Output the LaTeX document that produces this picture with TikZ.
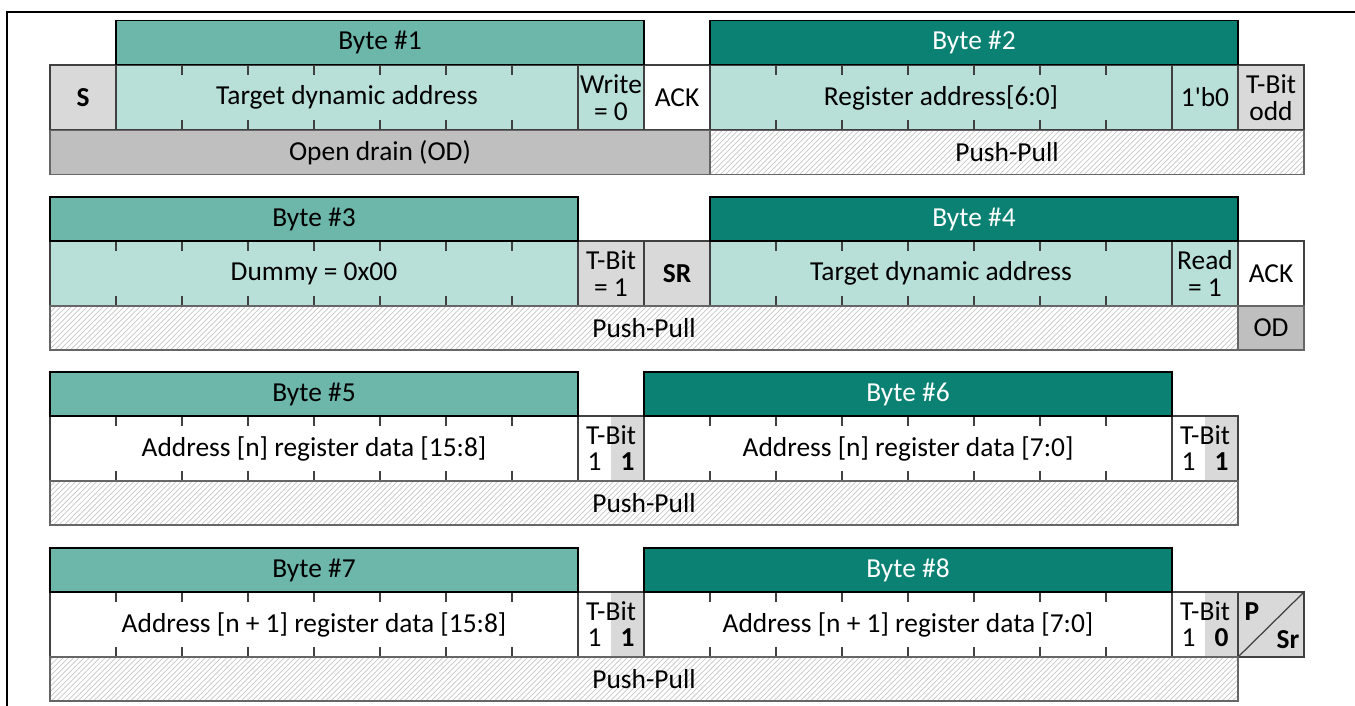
\documentclass[tikz,border=0pt]{standalone}
\usepackage{fontspec}
\setmainfont{Carlito}
\usepackage{tikz}
\usetikzlibrary{patterns}
\usepackage{xcolor}
\definecolor{bytelt}{HTML}{6CB6AA}
\definecolor{bytedk}{HTML}{0A8173}
\definecolor{field}{HTML}{B9DFD9}
\definecolor{ctrl}{HTML}{D9D9D9}
\definecolor{drain}{HTML}{BFBFBF}
\definecolor{edge}{HTML}{404040}

\begin{document}
\begin{tikzpicture}[x=1.32cm, y=1cm,
  every node/.style={font=\fontsize{15.6}{15.5}\selectfont, inner sep=0pt, outer sep=0pt},
  slots/.style={minimum width=#1*1.32cm},
  hdr/.style={draw=black, line width=1.1pt, fill=bytelt, minimum height=0.88cm},
  hdrdark/.style={hdr, fill=bytedk, text=white},
  cell/.style={draw=edge, line width=0.7pt, minimum height=1.3cm, align=center},
  half/.style={fill=ctrl, minimum width=0.66cm, minimum height=1.3cm},
  band/.style={draw=black!60, line width=0.7pt, minimum height=0.88cm},
  pp/.style={band, pattern=north east lines, pattern color=black!22},
  od/.style={band, fill=drain},
  tick/.style={draw=edge, line width=0.7pt}
]
  \path[use as bounding box, fill=white] (-0.75758,0) rectangle (19.7727,-14.1);
  \draw[line width=1.2pt] (-0.6515,-14.2) -- (-0.6515,-0.24) -- (19.9,-0.24);

  % Row 1: bytes 1 and 2
  \node[cell, slots=1, fill=ctrl] (s1) at (0.5,-1.95) {\bfseries S};
  \node[cell, slots=7, fill=field] (tda1) at (4.5,-1.95) {Target dynamic address};
  \node[cell, slots=1, fill=field] (wr1) at (8.5,-1.95) {Write\\= 0};
  \node[cell, slots=1] (ack1) at (9.5,-1.95) {ACK};
  \node[cell, slots=7, fill=field] (reg1) at (13.5,-1.95) {Register address[6:0]};
  \node[cell, slots=1, fill=field] (zero1) at (17.5,-1.95) {1\textquotesingle b0};
  \node[cell, slots=1, fill=ctrl] (tb1) at (18.5,-1.95) {T-Bit\\odd};
  \foreach \i in {2,3,4,5,6,7,11,12,13,14,15,16}
    \draw[tick] (\i,-1.30) -- ++(0,-0.2) (\i,-2.60) -- ++(0,0.2);
  \node[hdr, slots=8] (b1) at (5,-0.85) {Byte \#1};
  \node[hdrdark, slots=8] (b2) at (14,-0.85) {Byte \#2};
  \node[od, slots=10] (od1) at (5,-3.05) {Open drain (OD)};
  \node[pp, slots=9] (pp1) at (14.5,-3.05) {Push-Pull};

  % Row 2: bytes 3 and 4
  \node[cell, slots=8, fill=field] (dum2) at (4,-5.47) {Dummy = 0x00};
  \node[cell, slots=1, fill=ctrl] (tb2) at (8.5,-5.47) {T-Bit\\= 1};
  \node[cell, slots=1, fill=ctrl] (sr2) at (9.5,-5.47) {\bfseries SR};
  \node[cell, slots=7, fill=field] (tda2) at (13.5,-5.47) {Target dynamic address};
  \node[cell, slots=1, fill=field] (rd2) at (17.5,-5.47) {Read\\= 1};
  \node[cell, slots=1] (ack2) at (18.5,-5.47) {ACK};
  \foreach \i in {1,2,3,4,5,6,7,11,12,13,14,15,16}
    \draw[tick] (\i,-4.82) -- ++(0,-0.2) (\i,-6.12) -- ++(0,0.2);
  \node[hdr, slots=8] (b3) at (4,-4.38) {Byte \#3};
  \node[hdrdark, slots=8] (b4) at (14,-4.38) {Byte \#4};
  \node[pp, slots=18] (pp2) at (9,-6.56) {Push-Pull};
  \node[od, slots=1] (od2) at (18.5,-6.56) {OD};

  % Row 3: bytes 5 and 6
  \node[cell, slots=8] (dat5) at (4,-8.97) {Address [n] register data [15:8]};
  \node[half] (g5) at (8.75,-8.97) {};
  \node[cell, slots=1] (tb5) at (8.5,-8.97) {};
  \node (tb5t) at ([yshift=0.27cm]tb5.center) {T-Bit};
  \node (tb5a) at ([xshift=-0.33cm, yshift=-0.27cm]tb5.center) {1};
  \node (tb5b) at ([xshift=0.33cm, yshift=-0.27cm]tb5.center) {\bfseries 1};
  \node[cell, slots=8] (dat6) at (13,-8.97) {Address [n] register data [7:0]};
  \node[half] (g6) at (17.75,-8.97) {};
  \node[cell, slots=1] (tb6) at (17.5,-8.97) {};
  \node (tb6t) at ([yshift=0.27cm]tb6.center) {T-Bit};
  \node (tb6a) at ([xshift=-0.33cm, yshift=-0.27cm]tb6.center) {1};
  \node (tb6b) at ([xshift=0.33cm, yshift=-0.27cm]tb6.center) {\bfseries 1};
  \foreach \i in {1,2,3,4,5,6,7,10,11,12,13,14,15,16}
    \draw[tick] (\i,-8.32) -- ++(0,-0.2) (\i,-9.62) -- ++(0,0.2);
  \node[hdr, slots=8] (b5) at (4,-7.88) {Byte \#5};
  \node[hdrdark, slots=8] (b6) at (13,-7.88) {Byte \#6};
  \node[pp, slots=18] (pp3) at (9,-10.06) {Push-Pull};

  % Row 4: bytes 7 and 8
  \node[cell, slots=8] (dat7) at (4,-12.49) {Address [n + 1] register data [15:8]};
  \node[half] (g7) at (8.75,-12.49) {};
  \node[cell, slots=1] (tb7) at (8.5,-12.49) {};
  \node (tb7t) at ([yshift=0.27cm]tb7.center) {T-Bit};
  \node (tb7a) at ([xshift=-0.33cm, yshift=-0.27cm]tb7.center) {1};
  \node (tb7b) at ([xshift=0.33cm, yshift=-0.27cm]tb7.center) {\bfseries 1};
  \node[cell, slots=8] (dat8) at (13,-12.49) {Address [n + 1] register data [7:0]};
  \node[half] (g8) at (17.75,-12.49) {};
  \node[cell, slots=1] (tb8) at (17.5,-12.49) {};
  \node (tb8t) at ([yshift=0.27cm]tb8.center) {T-Bit};
  \node (tb8a) at ([xshift=-0.33cm, yshift=-0.27cm]tb8.center) {1};
  \node (tb8b) at ([xshift=0.33cm, yshift=-0.27cm]tb8.center) {\bfseries 0};
  \node[cell, slots=1, fill=ctrl] (ps8) at (18.5,-12.49) {};
  \draw[edge, line width=0.7pt] (ps8.south west) -- (ps8.north east);
  \node (ps8p) at ([xshift=-0.38cm, yshift=0.25cm]ps8.center) {\bfseries P};
  \node (ps8s) at ([xshift=0.34cm, yshift=-0.31cm]ps8.center) {\bfseries Sr};
  \foreach \i in {1,2,3,4,5,6,7,10,11,12,13,14,15,16}
    \draw[tick] (\i,-11.84) -- ++(0,-0.2) (\i,-13.14) -- ++(0,0.2);
  \node[hdr, slots=8] (b7) at (4,-11.40) {Byte \#7};
  \node[hdrdark, slots=8] (b8) at (13,-11.40) {Byte \#8};
  \node[pp, slots=18] (pp4) at (9,-13.58) {Push-Pull};
\end{tikzpicture}
\end{document}
